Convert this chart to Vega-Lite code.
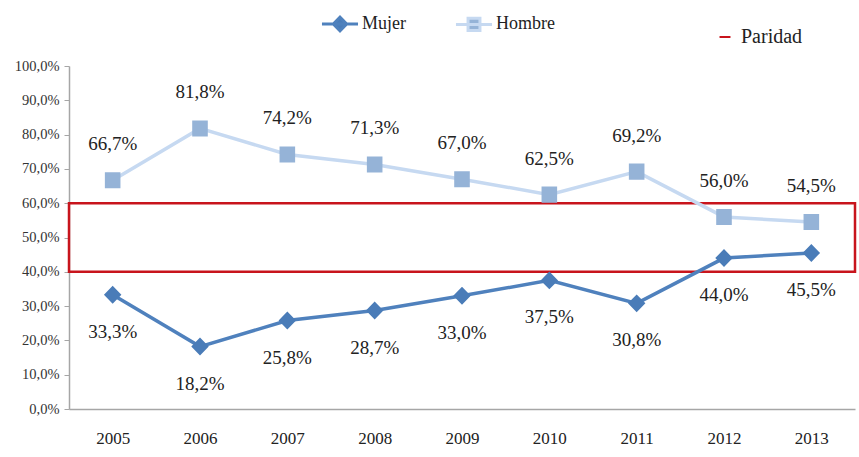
{
  "$schema": "https://vega.github.io/schema/vega-lite/v6.json",
  "autosize": "none",
  "width": 786,
  "height": 343,
  "padding": {"left": 69, "top": 66, "right": 4, "bottom": 48},
  "background": "white",
  "config": {
    "locale": {"number": {"decimal": ",", "thousands": ".", "grouping": [3], "currency": ["", " €"]}},
    "font": "Liberation Serif",
    "text": {"font": "Liberation Serif"},
    "axis": {"labelFont": "Liberation Serif"},
    "legend": {"labelFont": "Liberation Serif"},
    "view": {"stroke": null}
  },
  "data": {
    "values": [
      {"year": "2005", "series": "Mujer", "v": 0.333},
      {"year": "2006", "series": "Mujer", "v": 0.182},
      {"year": "2007", "series": "Mujer", "v": 0.258},
      {"year": "2008", "series": "Mujer", "v": 0.287},
      {"year": "2009", "series": "Mujer", "v": 0.330},
      {"year": "2010", "series": "Mujer", "v": 0.375},
      {"year": "2011", "series": "Mujer", "v": 0.308},
      {"year": "2012", "series": "Mujer", "v": 0.440},
      {"year": "2013", "series": "Mujer", "v": 0.455},
      {"year": "2005", "series": "Hombre", "v": 0.667},
      {"year": "2006", "series": "Hombre", "v": 0.818},
      {"year": "2007", "series": "Hombre", "v": 0.742},
      {"year": "2008", "series": "Hombre", "v": 0.713},
      {"year": "2009", "series": "Hombre", "v": 0.670},
      {"year": "2010", "series": "Hombre", "v": 0.625},
      {"year": "2011", "series": "Hombre", "v": 0.692},
      {"year": "2012", "series": "Hombre", "v": 0.560},
      {"year": "2013", "series": "Hombre", "v": 0.545}
    ]
  },
  "encoding": {
    "x": {
      "field": "year", "type": "ordinal",
      "scale": {"type": "point", "padding": 0.5},
      "axis": {
        "title": null, "labelAngle": 0, "ticks": false, "labelPadding": 21,
        "labelFontSize": 17, "labelColor": "#222", "domainColor": "#a6a6a6", "domainWidth": 1.5, "grid": false
      }
    },
    "y": {
      "field": "v", "type": "quantitative",
      "scale": {"domain": [0, 1], "nice": false},
      "axis": {
        "title": null, "format": ".1%", "values": [0, 0.1, 0.2, 0.3, 0.4, 0.5, 0.6, 0.7, 0.8, 0.9, 1.0],
        "grid": false, "tickSize": 5, "tickColor": "#a6a6a6", "domainColor": "#a6a6a6", "domainWidth": 1.5,
        "labelFontSize": 14.5, "labelColor": "#333", "labelPadding": 5
      }
    }
  },
  "layer": [
    {
      "data": {"values": [{"name": "Paridad", "lo": 0.4, "hi": 0.6}]},
      "mark": {"type": "rect", "fill": "transparent", "strokeWidth": 2.5},
      "encoding": {
        "x": null,
        "y": {"field": "lo", "type": "quantitative"},
        "y2": {"field": "hi"},
        "stroke": {
          "field": "name", "type": "nominal",
          "scale": {"domain": ["Paridad"], "range": ["#c8141c"]},
          "legend": {
            "orient": "none", "legendX": 646, "legendY": -39, "title": null,
            "symbolType": "stroke", "symbolSize": 120, "symbolStrokeWidth": 2, "symbolStrokeColor": "#d04848",
            "labelFontSize": 20, "labelColor": "#222", "labelOffset": 6
          }
        }
      }
    },
    {
      "mark": {"type": "line", "strokeWidth": 3.5},
      "encoding": {
        "color": {
          "field": "series", "type": "nominal",
          "scale": {"domain": ["Mujer", "Hombre"], "range": ["#4f81bd", "#c6d9f1"]},
          "legend": {
            "orient": "none", "legendX": 251, "legendY": -62, "direction": "horizontal", "title": null,
            "symbolSize": 1300, "labelFontSize": 18, "labelColor": "#222", "columnPadding": 43, "labelOffset": 2,
            "encode": {
              "symbols": {
                "update": {
                  "stroke": {"signal": "datum.label === 'Mujer' ? '#4f81bd' : '#c6d9f1'"},
                  "fill": {"signal": "datum.label === 'Mujer' ? '#4a7cb8' : '#95b3d7'"},
                  "strokeWidth": {"value": 3},
                  "opacity": {"value": 1}
                }
              }
            }
          }
        }
      }
    },
    {
      "mark": {"type": "point", "filled": true, "size": 2230, "opacity": 1},
      "encoding": {
        "fill": {
          "field": "series", "type": "nominal",
          "scale": {"domain": ["Mujer", "Hombre"], "range": ["#4a7cb8", "#95b3d7"]}
        },
        "shape": {
          "field": "series", "type": "nominal",
          "scale": {"domain": ["Mujer", "Hombre"], "range": ["M-1,0L1,0M-0.37,0L0,-0.38L0.37,0L0,0.38Z", "M-1,0L1,0M-0.33,-0.34L0.33,-0.34L0.33,0.34L-0.33,0.34Z"]}
        }
      }
    },
    {
      "transform": [{"filter": "datum.series === 'Hombre'"}],
      "mark": {"type": "text", "dy": -36, "fontSize": 19, "color": "#222", "font": "Liberation Serif"},
      "encoding": {"text": {"field": "v", "type": "quantitative", "format": ".1%"}}
    },
    {
      "transform": [{"filter": "datum.series === 'Mujer'"}],
      "mark": {"type": "text", "dy": 37, "fontSize": 19, "color": "#222", "font": "Liberation Serif"},
      "encoding": {"text": {"field": "v", "type": "quantitative", "format": ".1%"}}
    }
  ]
}
